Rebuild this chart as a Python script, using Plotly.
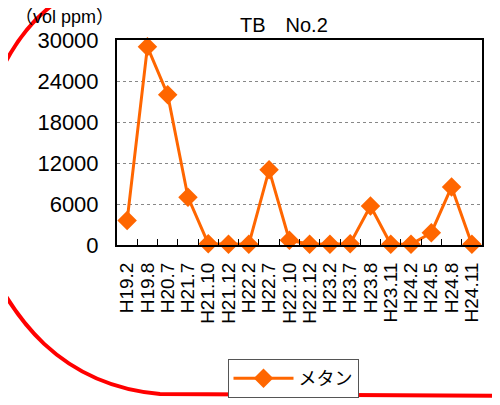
import plotly.graph_objects as go

categories = ["H19.2", "H19.8", "H20.7", "H21.7", "H21.10", "H21.12", "H22.2", "H22.7",
              "H22.10", "H22.12", "H23.2", "H23.7", "H23.8", "H23.11", "H24.2", "H24.5",
              "H24.8", "H24.11"]
methane = [3600, 29000, 22000, 7000, 200, 100, 100, 11000,
           700, 100, 100, 200, 5700, 100, 100, 1800,
           8500, 100]
y_ticks = [0, 6000, 12000, 18000, 24000, 30000]
y_tick_text = ["0", "6000", "12000", "18000", "24000", "30000"]

W, H = 500, 405
OFF = 8  # page body margin
L, R, T, B = 117 - OFF, 18 + OFF, 40 - OFF, 160 + OFF
pw, ph = W - L - R, H - T - B

def px(x, y):
    x -= OFF
    y -= OFF
    return ((x - L) / pw, (H - B - y) / ph)

def path(cmds):
    out = []
    for c in cmds:
        op, pts = c[0], c[1:]
        s = op
        for (x, y) in pts:
            a, b = px(x, y)
            s += f" {a:.4f},{b:.4f}"
        out.append(s)
    return " ".join(out)

fig = go.Figure()
fig.add_trace(go.Scatter(
    x=categories, y=methane, mode="lines+markers", name="メタン",
    line=dict(color="#FF6600", width=3),
    marker=dict(symbol="diamond", size=15, color="#FF6600"),
    cliponaxis=False,
))

red = path([
    ("M", (64, -3)),
    ("C", (35, 15), (12, 45), (-3, 80)),
    ("L", (-40, 200)),
    ("L", (-8, 272)),
    ("C", (12, 310), (55, 385), (160, 394)),
    ("L", (520, 396)),
])

lx, ly = px(293, 359)

fig.update_layout(
    width=W, height=H,
    margin=dict(l=L, r=R, t=T, b=B, autoexpand=False),
    paper_bgcolor="white", plot_bgcolor="white",
    font=dict(family="Liberation Sans, Arial, sans-serif", color="black"),
    showlegend=True,
    legend=dict(x=lx, xanchor="center", y=ly, yanchor="top",
                bordercolor="#555555", borderwidth=1, bgcolor="white",
                font=dict(family="Noto Sans CJK JP", size=18),
                itemwidth=60),
    xaxis=dict(type="category", range=[-0.5, len(categories) - 0.5],
               tickmode="array", tickvals=categories, ticktext=categories,
               showline=True, linecolor="black", linewidth=2, mirror=True,
               ticks="inside", tickson="boundaries", ticklen=6, tickcolor="black",
               tickangle=-90, tickfont=dict(size=19), ticklabelstandoff=8,
               showgrid=False, zeroline=False, automargin=False),
    yaxis=dict(range=[0, 30000], tickmode="array", tickvals=y_ticks, ticktext=y_tick_text,
               showline=True, linecolor="black", linewidth=2, mirror=True,
               ticks="", tickfont=dict(size=22), ticklabelstandoff=12,
               showgrid=True, gridcolor="#888888", griddash="dot", gridwidth=1,
               zeroline=False, automargin=False),
    annotations=[
        dict(text="TB\u3000No.2", x=px(284, 0)[0], y=px(0, 25)[1], xref="paper", yref="paper",
             showarrow=False, font=dict(size=20), xanchor="center", yanchor="middle"),
        dict(text="\uff08vol ppm\uff09", x=px(64, 0)[0], y=px(0, 17)[1], xref="paper", yref="paper",
             showarrow=False, font=dict(size=18, family="Liberation Sans, Noto Sans CJK JP"),
             xanchor="center", yanchor="middle"),
    ],
    shapes=[dict(type="path", path=red, xref="paper", yref="paper",
                 line=dict(color="#FF0000", width=4), layer="above")],
)

fig.write_html("out.html")
